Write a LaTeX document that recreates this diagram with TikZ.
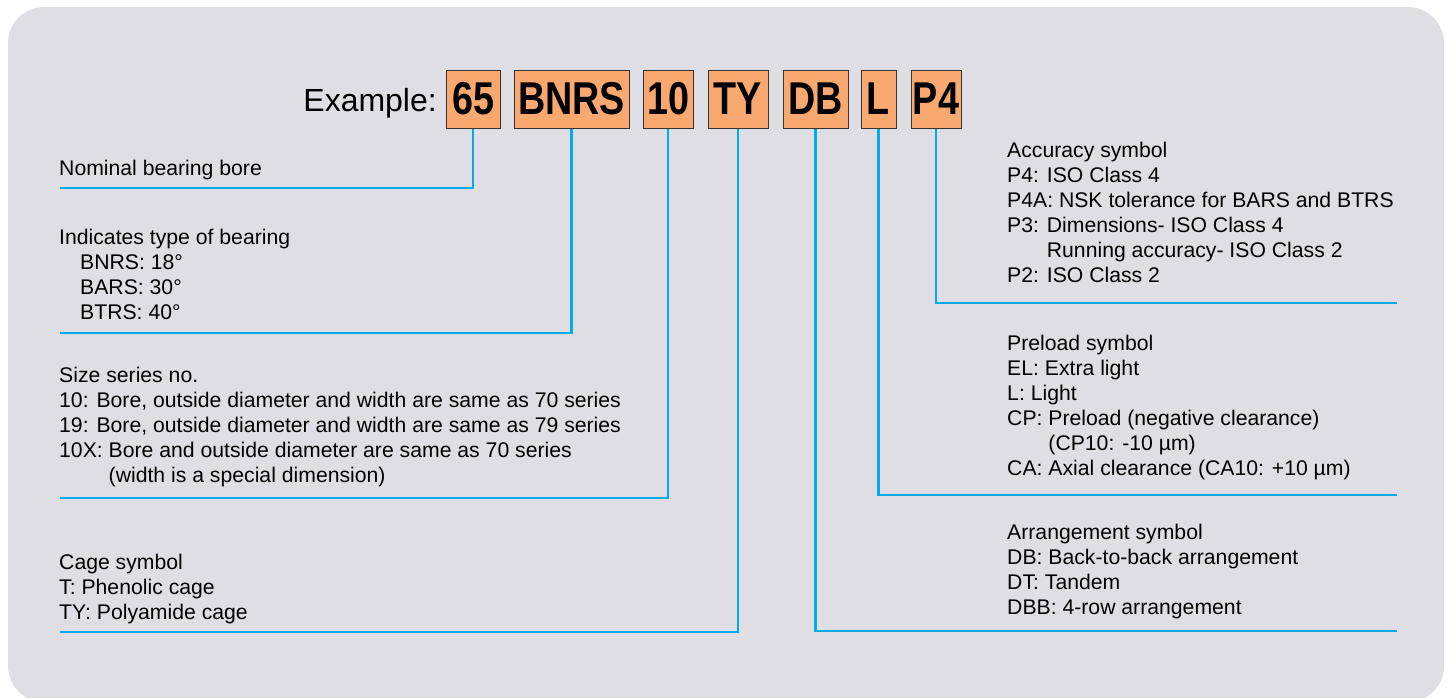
\documentclass[tikz,border=0pt]{standalone}
\usepackage{fontspec}
\setmainfont{Liberation Sans}
\newfontfamily\codefont[FakeStretch=0.82]{Liberation Sans}
\usetikzlibrary{positioning}
\definecolor{panelgrey}{RGB}{224,222,229}
\definecolor{codeorange}{RGB}{249,168,111}
\definecolor{leadblue}{RGB}{0,172,236}
\begin{document}
\begin{tikzpicture}[x=1pt,y=-1pt,
  codebox/.style={draw=black!80, line width=1pt, fill=codeorange, minimum height=58pt, inner sep=0pt, font=\codefont\bfseries\fontsize{46}{46}\selectfont},
  lead/.style={leadblue, line width=2.8pt},
  legend/.style={anchor=north west, inner sep=0pt, align=left, font=\fontsize{21.2}{25}\selectfont}]
\useasboundingbox (0,0) rectangle (1450,697);
\fill[panelgrey, rounded corners=36pt] (8,7) rectangle (1444,702);
\node[codebox, minimum width=54pt] (b65) at (473,99){65};
\node[codebox, minimum width=115pt, right=13pt of b65] (bBNRS){BNRS};
\node[codebox, minimum width=50pt, right=13pt of bBNRS] (b10){10};
\node[codebox, minimum width=60pt, right=14pt of b10] (bTY){TY};
\node[codebox, minimum width=65pt, right=14pt of bTY] (bDB){DB};
\node[codebox, minimum width=35pt, right=12pt of bDB] (bL){L};
\node[codebox, minimum width=50pt, right=14pt of bL] (bP4){P4};
\node[anchor=base east, inner sep=0pt, font=\fontsize{32}{32}\selectfont] (example) at (437,111){Example:};

\node[legend] (t65) at (59,160){Nominal bearing bore};
\node[legend] (tBNRS) at (59,229){Indicates type of bearing\\
  \hspace*{21pt}BNRS: 18°\\ \hspace*{21pt}BARS: 30°\\ \hspace*{21pt}BTRS: 40°};
\node[legend] (t10) at (59,367){Size series no.\\
  10: Bore, outside diameter and width are same as 70 series\\
  19: Bore, outside diameter and width are same as 79 series\\
  10X: Bore and outside diameter are same as 70 series\\
  \phantom{10X: }(width is a special dimension)};
\node[legend] (tTY) at (59,554){Cage symbol\\ T: Phenolic cage\\ TY: Polyamide cage};
\node[legend] (tP4) at (1007,142){Accuracy symbol\\ P4: ISO Class 4\\
  P4A: NSK tolerance for BARS and BTRS\\ P3: Dimensions- ISO Class 4\\
  \phantom{P3: }Running accuracy- ISO Class 2\\ P2: ISO Class 2};
\node[legend] (tL) at (1007,335){Preload symbol\\ EL: Extra light\\ L: Light\\
  CP: Preload (negative clearance)\\ \phantom{CP: }(CP10: -10 µm)\\
  CA: Axial clearance (CA10: +10 µm)};
\node[legend] (tDB) at (1007,524){Arrangement symbol\\ DB: Back-to-back arrangement\\
  DT: Tandem\\ DBB: 4-row arrangement};

\coordinate (e65) at (60,188);
\coordinate (eBNRS) at (60,333);
\coordinate (e10) at (60,498);
\coordinate (eTY) at (60,632);
\coordinate (eDB) at (1397,631);
\coordinate (eL) at (1397,495);
\coordinate (eP4) at (1397,303);
\draw[lead] (e65) -| (b65.south);
\draw[lead] (eBNRS) -| (bBNRS.south);
\draw[lead] (e10) -| (b10.south);
\draw[lead] (eTY) -| (bTY.south);
\draw[lead] (eDB) -| (bDB.south);
\draw[lead] (eL) -| (bL.south);
\draw[lead] (eP4) -| (bP4.south);

\end{tikzpicture}
\end{document}
